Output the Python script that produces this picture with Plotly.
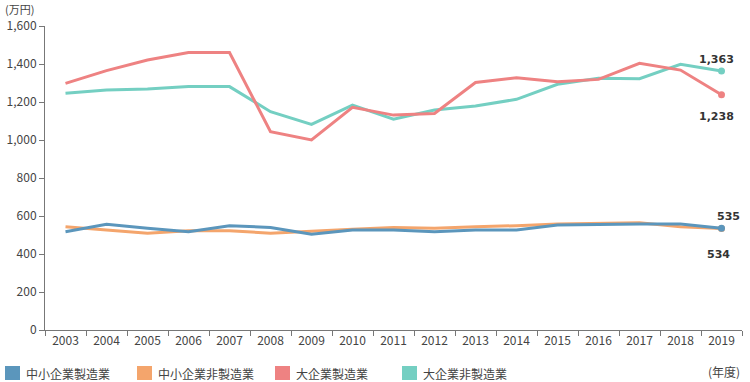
import plotly.graph_objects as go

years = [str(y) for y in range(2003, 2020)]
series_names = ["中小企業製造業", "中小企業非製造業", "大企業製造業", "大企業非製造業"]
sme_mfg = [517, 556, 535, 517, 549, 540, 504, 526, 526, 517, 526, 526, 553, 556, 558, 558, 535]
sme_nonmfg = [544, 526, 509, 523, 523, 509, 521, 530, 540, 535, 544, 549, 558, 561, 565, 544, 534]
large_mfg = [1298, 1365, 1421, 1460, 1460, 1044, 1000, 1172, 1131, 1140, 1303, 1328, 1307, 1319, 1404, 1368, 1238]
large_nonmfg = [1246, 1263, 1268, 1281, 1281, 1149, 1082, 1184, 1109, 1158, 1179, 1214, 1293, 1325, 1323, 1398, 1363]
y_ticks = [0, 200, 400, 600, 800, 1000, 1200, 1400, 1600]

colors = ["#5B96BC", "#F4A56C", "#EE8282", "#74CFC2"]
all_series = [sme_mfg, sme_nonmfg, large_mfg, large_nonmfg]
draw_order = [3, 2, 1, 0]

fig = go.Figure()
for i in draw_order:
    vals = all_series[i]
    fig.add_trace(go.Scatter(
        x=years, y=vals, mode="lines", name=series_names[i],
        line=dict(color=colors[i], width=3), showlegend=False,
        hoverinfo="skip"))
    fig.add_trace(go.Scatter(
        x=[years[-1]], y=[vals[-1]], mode="markers",
        marker=dict(color=colors[i], size=7), showlegend=False,
        hoverinfo="skip"))

# end-point labels: (series index, xshift, yshift)
last_idx = len(years) - 1  # category index of last year
label_specs = [(3, -5, 12), (2, -5, -22), (0, 7, 12), (1, -3, -26)]
for idx, xs, ys in label_specs:
    v = all_series[idx][-1]
    fig.add_annotation(x=last_idx, y=v, xref="x", yref="y", text=f"{v:,}",
                       showarrow=False, xshift=xs, yshift=ys,
                       font=dict(family="DejaVu Sans", size=11, color="#333333", weight="bold"))

# legend drawn as squares + text in paper coordinates (pixel-based)
W, H = 750, 382
ml, mr, mt, mb = 45, 8, 26, 52
pw, ph = W - ml - mr, H - mt - mb
def px(xp):
    return (xp - ml) / pw
def py(yp):
    return (H - mb - yp) / ph

legend_x = [5, 137, 275, 402]
for i, lx in enumerate(legend_x):
    fig.add_shape(type="rect", xref="paper", yref="paper",
                  x0=px(lx), x1=px(lx + 15), y0=py(380), y1=py(366),
                  fillcolor=colors[i], line=dict(width=0))
    fig.add_annotation(xref="paper", yref="paper", x=px(lx + 19), y=py(373),
                       text=series_names[i], showarrow=False, xanchor="left",
                       yanchor="middle",
                       font=dict(family="Noto Sans CJK JP", size=12, color="#444444"))

fig.add_annotation(xref="paper", yref="paper", x=px(3), y=py(9), text="(万円)",
                   showarrow=False, xanchor="left", yanchor="middle",
                   font=dict(family="Noto Sans CJK JP", size=11, color="#444444"))
fig.add_annotation(xref="paper", yref="paper", x=px(742), y=py(371), text="(年度)",
                   showarrow=False, xanchor="right", yanchor="middle",
                   font=dict(family="Noto Sans CJK JP", size=12, color="#444444"))

fig.update_layout(
    width=W, height=H,
    margin=dict(l=ml, r=mr, t=mt, b=mb),
    paper_bgcolor="white", plot_bgcolor="white",
    showlegend=False,
    font=dict(family="Noto Sans CJK JP", size=12, color="#444444"),
)
fig.update_xaxes(
    type="category", range=[-0.5, len(years) - 0.5],
    showline=True, linecolor="#777777", linewidth=1,
    ticks="outside", tickson="boundaries", ticklen=5, tickcolor="#777777",
    showgrid=False, zeroline=False,
    tickfont=dict(size=12, color="#444444"),
)
fig.update_yaxes(
    range=[0, 1600], tickvals=y_ticks, tickformat=",",
    showline=True, linecolor="#777777", linewidth=1,
    ticks="outside", ticklen=5, tickcolor="#777777",
    showgrid=False, zeroline=False,
    tickfont=dict(size=12, color="#444444"),
)

fig.write_html("out.html", config={"displayModeBar": False},
               post_script="document.body.style.margin='0';document.body.style.overflow='hidden';")
